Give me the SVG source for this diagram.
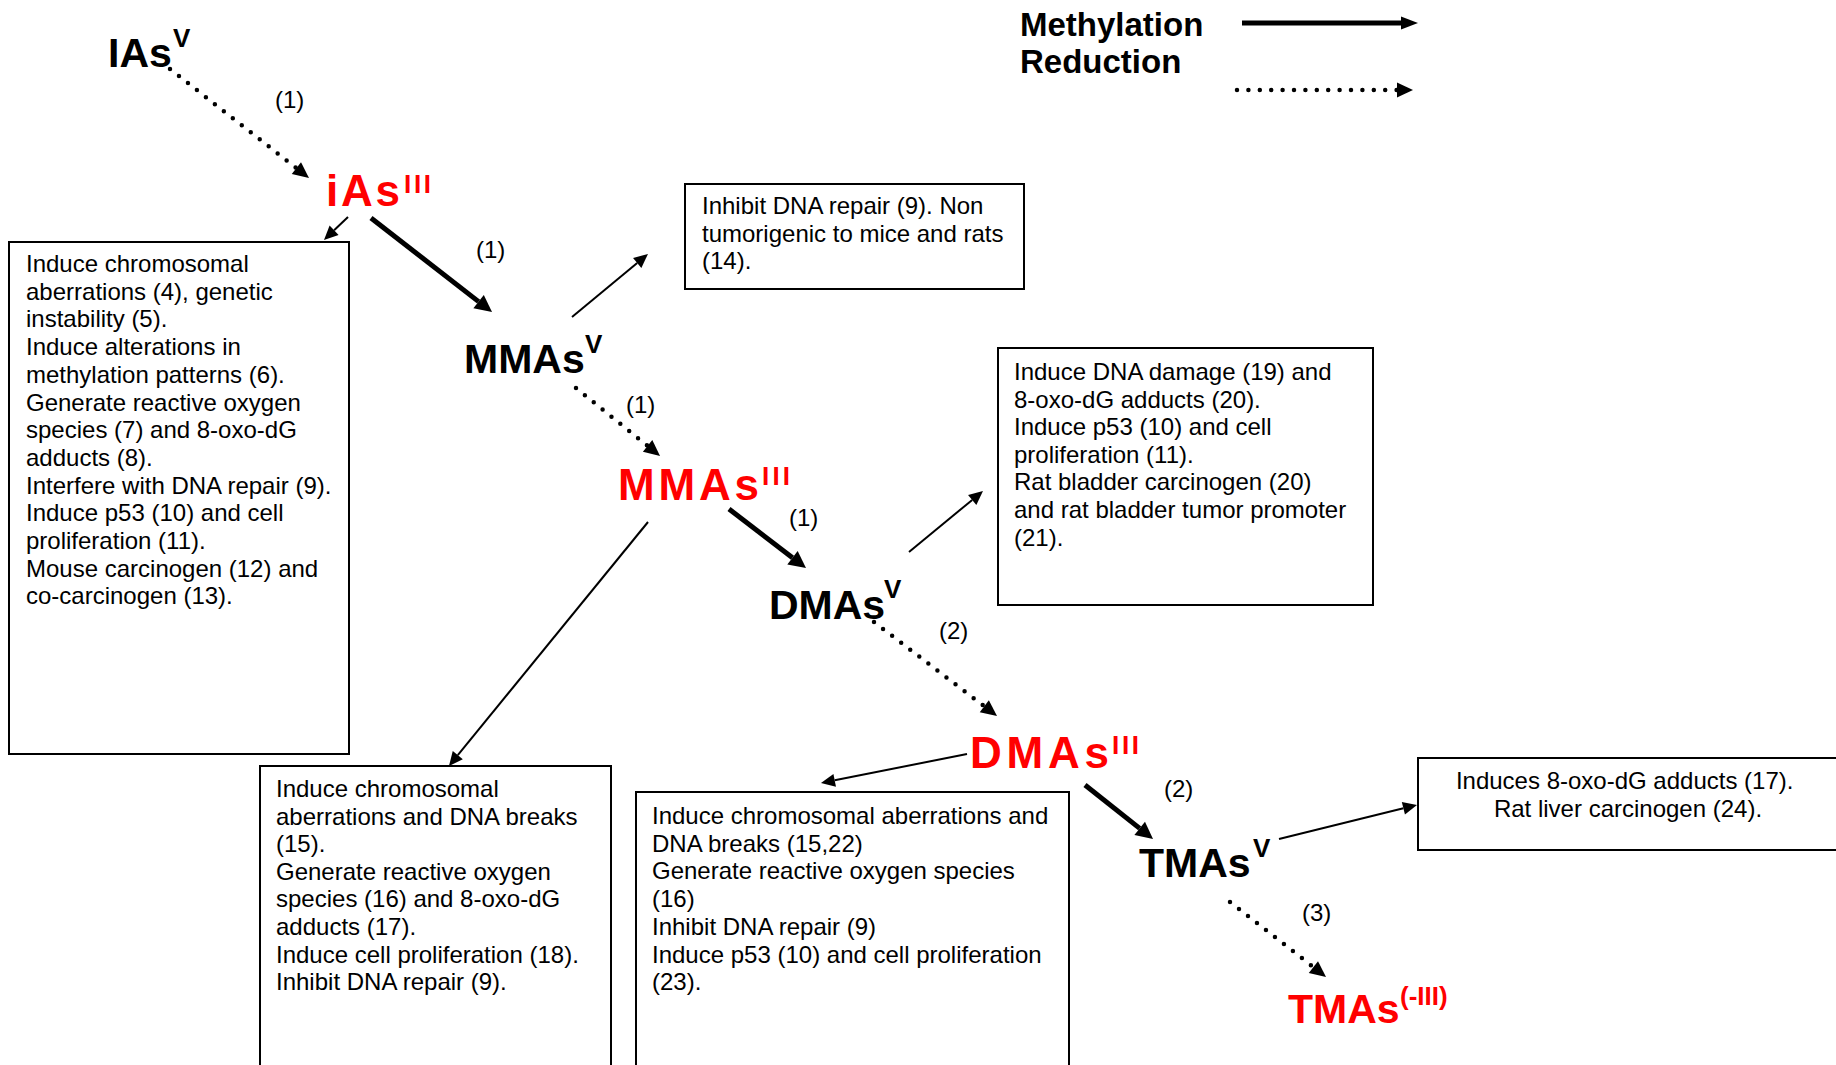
<svg xmlns="http://www.w3.org/2000/svg" width="1836" height="1065" viewBox="0 0 1836 1065">
  <style>
    .bg { fill: #ffffff; }
    .node { font-family: "Liberation Sans", Arial, sans-serif; font-weight: bold; font-size: 41px; fill: #000000; }
    .big { font-size: 44px; }
    .red { fill: #ff0000; }
    .sup { font-size: 26px; }
    .box { fill: #ffffff; stroke: #000000; stroke-width: 2; }
    .bt { font-family: "Liberation Sans", Arial, sans-serif; font-size: 24px; fill: #000000; }
    .lbl { font-family: "Liberation Sans", Arial, sans-serif; font-size: 24px; fill: #000000; }
    .leg { font-family: "Liberation Sans", Arial, sans-serif; font-weight: bold; font-size: 33px; fill: #000000; }
    .thick { fill: none; stroke: #000000; stroke-width: 5; }
    .thin { fill: none; stroke: #000000; stroke-width: 2; }
    .dot { fill: none; stroke: #000000; stroke-width: 4.5; stroke-linecap: round; stroke-dasharray: 0 11.4; }
  </style>
  <defs>
    <marker id="ah-thick" markerUnits="userSpaceOnUse" viewBox="0 -10 20 20" refX="0" refY="0" markerWidth="20" markerHeight="20" orient="auto" overflow="visible">
      <path d="M0,-8.5 L17,0 L0,8.5 z" fill="#000000"/>
    </marker>
    <marker id="ah-thin" markerUnits="userSpaceOnUse" viewBox="0 -10 20 20" refX="0" refY="0" markerWidth="20" markerHeight="20" orient="auto" overflow="visible">
      <path d="M0,-6.5 L14,0 L0,6.5 z" fill="#000000"/>
    </marker>
    <marker id="ah-dot" markerUnits="userSpaceOnUse" viewBox="0 -10 20 20" refX="0" refY="0" markerWidth="20" markerHeight="20" orient="auto" overflow="visible">
      <path d="M0,-7.5 L16,0 L0,7.5 z" fill="#000000"/>
    </marker>
    <marker id="ah-leg" markerUnits="userSpaceOnUse" viewBox="0 -10 20 20" refX="0" refY="0" markerWidth="20" markerHeight="20" orient="auto" overflow="visible">
      <path d="M0,-6.5 L17,0 L0,6.5 z" fill="#000000"/>
    </marker>
  </defs>

  <rect class="bg" x="0" y="0" width="1836" height="1065"/>

  <!-- Legend -->
  <g id="legend">
    <text class="leg" x="1020" y="36">Methylation</text>
    <text class="leg" x="1020" y="73">Reduction</text>
    <path class="thick" d="M1242,23 L1401,23" marker-end="url(#ah-leg)"/>
    <path class="dot" d="M1237,90 L1397,90" marker-end="url(#ah-dot)"/>
  </g>

  <!-- Species nodes -->
  <g id="node-iasv">
    <text class="node" x="108" y="67">IAs<tspan class="sup" x="173" y="47">V</tspan></text>
  </g>
  <g id="node-iasiii">
    <text class="node big red" x="326" y="206" textLength="74" lengthAdjust="spacing">iAs</text>
    <text class="node red sup" x="404" y="193" textLength="27" lengthAdjust="spacing">III</text>
  </g>
  <g id="node-mmasv">
    <text class="node" x="464" y="373">MMAs<tspan class="sup" x="585" y="353">V</tspan></text>
  </g>
  <g id="node-mmasiii">
    <text class="node big red" x="618" y="500" textLength="141" lengthAdjust="spacing">MMAs</text>
    <text class="node red sup" x="762" y="485" textLength="28" lengthAdjust="spacing">III</text>
  </g>
  <g id="node-dmasv">
    <text class="node" x="769" y="619">DMAs<tspan class="sup" x="884" y="598">V</tspan></text>
  </g>
  <g id="node-dmasiii">
    <text class="node big red" x="970" y="768" textLength="139" lengthAdjust="spacing">DMAs</text>
    <text class="node red sup" x="1112" y="754" textLength="27" lengthAdjust="spacing">III</text>
  </g>
  <g id="node-tmasv">
    <text class="node" x="1139" y="877">TMAs<tspan class="sup" x="1253" y="857">V</tspan></text>
  </g>
  <g id="node-tmas-iii">
    <text class="node red" x="1288" y="1023">TMAs<tspan class="sup" x="1400" y="1005">(-III)</tspan></text>
  </g>

  <!-- Effect boxes -->
  <g id="box-iasiii">
    <rect class="box" x="9" y="242" width="340" height="512"/>
    <text class="bt" x="26" y="272">
      <tspan x="26" dy="0">Induce chromosomal</tspan>
      <tspan x="26" dy="27.7">aberrations (4), genetic</tspan>
      <tspan x="26" dy="27.7">instability (5).</tspan>
      <tspan x="26" dy="27.7">Induce alterations in</tspan>
      <tspan x="26" dy="27.7">methylation patterns (6).</tspan>
      <tspan x="26" dy="27.7">Generate reactive oxygen</tspan>
      <tspan x="26" dy="27.7">species (7) and 8-oxo-dG</tspan>
      <tspan x="26" dy="27.7">adducts (8).</tspan>
      <tspan x="26" dy="27.7">Interfere with DNA repair (9).</tspan>
      <tspan x="26" dy="27.7">Induce p53 (10) and cell</tspan>
      <tspan x="26" dy="27.7">proliferation (11).</tspan>
      <tspan x="26" dy="27.7">Mouse carcinogen (12) and</tspan>
      <tspan x="26" dy="27.7">co-carcinogen (13).</tspan>
    </text>
  </g>
  <g id="box-mmasv">
    <rect class="box" x="685" y="184" width="339" height="105"/>
    <text class="bt" x="702" y="214">
      <tspan x="702" dy="0">Inhibit DNA repair (9). Non</tspan>
      <tspan x="702" dy="27.6">tumorigenic to mice and rats</tspan>
      <tspan x="702" dy="27.6">(14).</tspan>
    </text>
  </g>
  <g id="box-mmasiii">
    <rect class="box" x="260" y="766" width="351" height="320"/>
    <text class="bt" x="276" y="797">
      <tspan x="276" dy="0">Induce chromosomal</tspan>
      <tspan x="276" dy="27.6">aberrations and DNA breaks</tspan>
      <tspan x="276" dy="27.6">(15).</tspan>
      <tspan x="276" dy="27.6">Generate reactive oxygen</tspan>
      <tspan x="276" dy="27.6">species (16) and 8-oxo-dG</tspan>
      <tspan x="276" dy="27.6">adducts (17).</tspan>
      <tspan x="276" dy="27.6">Induce cell proliferation (18).</tspan>
      <tspan x="276" dy="27.6">Inhibit DNA repair (9).</tspan>
    </text>
  </g>
  <g id="box-dmasv">
    <rect class="box" x="998" y="348" width="375" height="257"/>
    <text class="bt" x="1014" y="380">
      <tspan x="1014" dy="0">Induce DNA damage (19) and</tspan>
      <tspan x="1014" dy="27.6">8-oxo-dG adducts (20).</tspan>
      <tspan x="1014" dy="27.6">Induce p53 (10) and cell</tspan>
      <tspan x="1014" dy="27.6">proliferation (11).</tspan>
      <tspan x="1014" dy="27.6">Rat bladder carcinogen (20)</tspan>
      <tspan x="1014" dy="27.6">and rat bladder tumor promoter</tspan>
      <tspan x="1014" dy="27.6">(21).</tspan>
    </text>
  </g>
  <g id="box-dmasiii">
    <rect class="box" x="636" y="792" width="433" height="300"/>
    <text class="bt" x="652" y="824">
      <tspan x="652" dy="0">Induce chromosomal aberrations and</tspan>
      <tspan x="652" dy="27.7">DNA breaks (15,22)</tspan>
      <tspan x="652" dy="27.7">Generate reactive oxygen species</tspan>
      <tspan x="652" dy="27.7">(16)</tspan>
      <tspan x="652" dy="27.7">Inhibit DNA repair (9)</tspan>
      <tspan x="652" dy="27.7">Induce p53 (10) and cell proliferation</tspan>
      <tspan x="652" dy="27.7">(23).</tspan>
    </text>
  </g>
  <g id="box-tmasv">
    <rect class="box" x="1418" y="758" width="430" height="92"/>
    <text class="bt" x="1628" y="789" text-anchor="middle">
      <tspan x="1628" dy="0">Induces 8-oxo-dG adducts (17).</tspan>
      <tspan x="1628" dy="28">Rat liver carcinogen (24).</tspan>
    </text>
  </g>

  <!-- Connectors -->
  <g id="connectors">
    <path class="dot" d="M170,69 L296.4,168.1" marker-end="url(#ah-dot)"/>
    <path class="thin" d="M348,217 L334.1,230.3" marker-end="url(#ah-thin)"/>
    <path class="thick" d="M371,218 L478.6,301.6" marker-end="url(#ah-thick)"/>
    <path class="thin" d="M572,317 L637.2,262.9" marker-end="url(#ah-thin)"/>
    <path class="dot" d="M576,388 L647.6,445.9" marker-end="url(#ah-dot)"/>
    <path class="thick" d="M729,509 L792.5,557.7" marker-end="url(#ah-thick)"/>
    <path class="thin" d="M648,522 L457.8,755.2" marker-end="url(#ah-thin)"/>
    <path class="thin" d="M909,552 L972.2,499.9" marker-end="url(#ah-thin)"/>
    <path class="dot" d="M874,622 L984.3,706.3" marker-end="url(#ah-dot)"/>
    <path class="thin" d="M967,754 L834.7,780.3" marker-end="url(#ah-thin)"/>
    <path class="thick" d="M1085,785 L1139.7,828.4" marker-end="url(#ah-thick)"/>
    <path class="thin" d="M1279,839 L1403.4,808.3" marker-end="url(#ah-thin)"/>
    <path class="dot" d="M1230,902 L1313.4,967.1" marker-end="url(#ah-dot)"/>

    <text class="lbl" x="275" y="108">(1)</text>
    <text class="lbl" x="476" y="258">(1)</text>
    <text class="lbl" x="626" y="413">(1)</text>
    <text class="lbl" x="789" y="526">(1)</text>
    <text class="lbl" x="939" y="639">(2)</text>
    <text class="lbl" x="1164" y="797">(2)</text>
    <text class="lbl" x="1302" y="921">(3)</text>
  </g>
</svg>
